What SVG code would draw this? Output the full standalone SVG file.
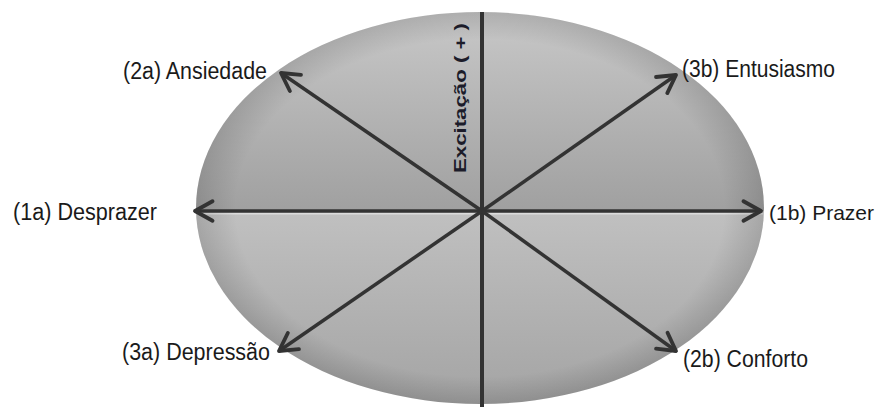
<svg xmlns="http://www.w3.org/2000/svg" width="880" height="407" viewBox="0 0 880 407">
  <style>
    .lbl { font-family: "Liberation Sans", Arial, sans-serif; font-size: 23px; fill: #1a1a1a; }
    .axis { font-family: "Liberation Sans", Arial, sans-serif; font-size: 16px; font-weight: bold; fill: #1c1c2a; }
    .conn { stroke: #333333; stroke-width: 3.5; fill: none; marker-end: url(#arr); }
  </style>
  <defs>
    <clipPath id="ell">
      <ellipse cx="480" cy="208" rx="284" ry="196"/>
    </clipPath>
    <linearGradient id="gTop" x1="0" y1="12" x2="0" y2="211" gradientUnits="userSpaceOnUse">
      <stop offset="0" stop-color="#c8c8c8"/>
      <stop offset="1" stop-color="#a0a0a0"/>
    </linearGradient>
    <linearGradient id="gBot" x1="0" y1="211" x2="0" y2="404" gradientUnits="userSpaceOnUse">
      <stop offset="0" stop-color="#c0c0c0"/>
      <stop offset="1" stop-color="#a4a4a4"/>
    </linearGradient>
    <radialGradient id="vig" cx="0.5" cy="0.5" r="0.5">
      <stop offset="0.86" stop-color="#000" stop-opacity="0"/>
      <stop offset="1" stop-color="#000" stop-opacity="0.13"/>
    </radialGradient>
    <marker id="arr" markerWidth="8" markerHeight="8" viewBox="0 0 8 8" refX="6.5" refY="4" orient="auto" markerUnits="strokeWidth">
      <path d="M1.5,1.2 L6.5,4 L1.5,6.8" fill="none" stroke="#333333" stroke-width="1.1" stroke-linecap="round" stroke-linejoin="round"/>
    </marker>
  </defs>

  <rect width="880" height="407" fill="#ffffff"/>

  <g id="ellipse">
    <g clip-path="url(#ell)">
      <rect x="190" y="0" width="580" height="211" fill="url(#gTop)"/>
      <rect x="190" y="211" width="580" height="200" fill="url(#gBot)"/>
      <line x1="190" y1="213.5" x2="770" y2="213.5" stroke="#dcdcdc" stroke-width="2"/>
    </g>
    <ellipse cx="480" cy="208" rx="284" ry="196" fill="url(#vig)"/>
  </g>

  <g id="connectors">
    <line x1="482" y1="12" x2="482" y2="407" stroke="#333333" stroke-width="4"/>
    <line class="conn" x1="482" y1="211" x2="195" y2="211"/>
    <line class="conn" x1="482" y1="211" x2="761" y2="211"/>
    <line class="conn" x1="482" y1="211" x2="281" y2="73"/>
    <line class="conn" x1="482" y1="211" x2="676" y2="75"/>
    <line class="conn" x1="482" y1="211" x2="279" y2="351"/>
    <line class="conn" x1="482" y1="211" x2="676" y2="351"/>
  </g>

  <g id="axis-label">
    <text class="axis" transform="translate(466,173) rotate(-90)" textLength="150" lengthAdjust="spacingAndGlyphs">Excitação ( + )</text>
  </g>
  <g id="n1a"><text class="lbl" x="13" y="220" textLength="144" lengthAdjust="spacingAndGlyphs">(1a) Desprazer</text></g>
  <g id="n1b"><text class="lbl" x="769" y="220" style="font-size:21px">(1b) Prazer</text></g>
  <g id="n2a"><text class="lbl" x="123" y="79" textLength="144" lengthAdjust="spacingAndGlyphs">(2a) Ansiedade</text></g>
  <g id="n3b"><text class="lbl" x="682" y="77" textLength="153" lengthAdjust="spacingAndGlyphs">(3b) Entusiasmo</text></g>
  <g id="n3a"><text class="lbl" x="122" y="360" textLength="148" lengthAdjust="spacingAndGlyphs">(3a) Depressão</text></g>
  <g id="n2b"><text class="lbl" x="683" y="367" textLength="125" lengthAdjust="spacingAndGlyphs">(2b) Conforto</text></g>
</svg>
